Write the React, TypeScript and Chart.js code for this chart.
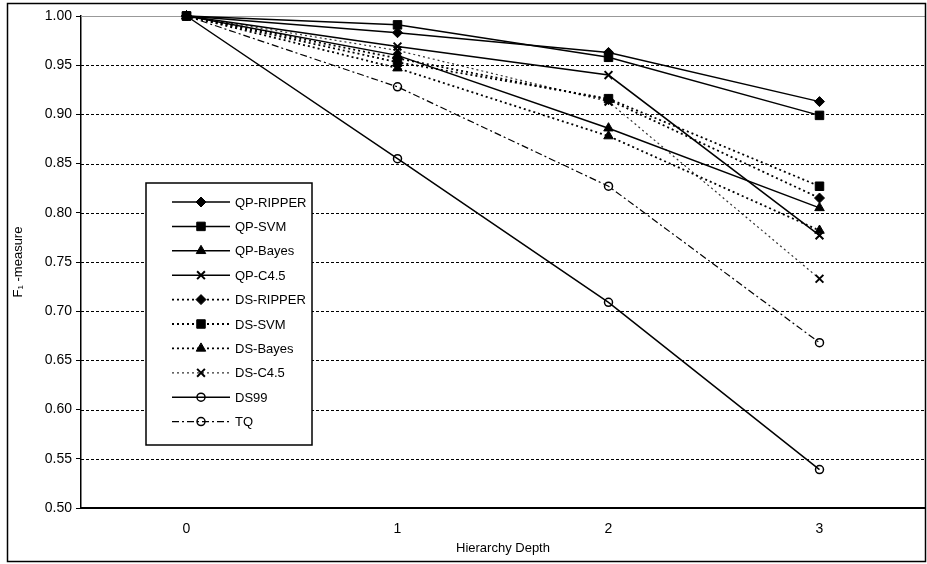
import React, { useEffect, useRef } from "react";
import { Chart, registerables } from "chart.js";
import { drawPoint } from "chart.js/helpers";

Chart.register(...registerables);

const depths = ["0", "1", "2", "3"];
const seriesNames = [
  "QP-RIPPER",
  "QP-SVM",
  "QP-Bayes",
  "QP-C4.5",
  "DS-RIPPER",
  "DS-SVM",
  "DS-Bayes",
  "DS-C4.5",
  "DS99",
  "TQ",
];
const qpRipper = [1.0, 0.983, 0.963, 0.913];
const qpSvm = [1.0, 0.991, 0.958, 0.899];
const qpBayes = [1.0, 0.96, 0.886, 0.805];
const qpC45 = [1.0, 0.969, 0.94, 0.777];
const dsRipper = [1.0, 0.957, 0.915, 0.815];
const dsSvm = [1.0, 0.953, 0.916, 0.827];
const dsBayes = [1.0, 0.947, 0.878, 0.782];
const dsC45 = [1.0, 0.965, 0.913, 0.733];
const ds99 = [1.0, 0.855, 0.709, 0.539];
const tq = [1.0, 0.928, 0.827, 0.668];
const yMin = 0.5;
const yMax = 1.0;
const yStep = 0.05;

const FONT = "'Liberation Sans', Arial, sans-serif";

type Style = {
  dash: number[];
  width: number;
  color: string;
  point: string;
  radius: number;
  fill: string;
  pw: number;
};

const styles: Style[] = [
  { dash: [], width: 1.5, color: "#000", point: "rectRot", radius: 5, fill: "#000", pw: 1 },
  { dash: [], width: 1.5, color: "#000", point: "rect", radius: 6, fill: "#000", pw: 1 },
  { dash: [], width: 1.5, color: "#000", point: "triangle", radius: 5.5, fill: "#000", pw: 1 },
  { dash: [], width: 1.5, color: "#000", point: "crossRot", radius: 5.5, fill: "#000", pw: 2 },
  { dash: [2, 3], width: 1.8, color: "#000", point: "rectRot", radius: 5, fill: "#000", pw: 1 },
  { dash: [2, 3], width: 1.8, color: "#000", point: "rect", radius: 6, fill: "#000", pw: 1 },
  { dash: [2, 3], width: 1.8, color: "#000", point: "triangle", radius: 5.5, fill: "#000", pw: 1 },
  { dash: [2, 3], width: 1.2, color: "#333", point: "crossRot", radius: 5.5, fill: "#000", pw: 2 },
  { dash: [], width: 1.5, color: "#000", point: "circle", radius: 4, fill: "rgba(0,0,0,0)", pw: 1.5 },
  { dash: [7, 3, 2, 3], width: 1.2, color: "#000", point: "circle", radius: 4, fill: "rgba(0,0,0,0)", pw: 1.5 },
];

const allSeries = [qpRipper, qpSvm, qpBayes, qpC45, dsRipper, dsSvm, dsBayes, dsC45, ds99, tq];

const gridPlugin = {
  id: "dashGrid",
  beforeDatasetsDraw(chart: any) {
    const { ctx, chartArea, scales } = chart;
    const y = scales.y;
    ctx.save();
    y.ticks.forEach((t: any) => {
      const py = Math.round(y.getPixelForValue(t.value)) + 0.5;
      if (Math.abs(t.value - yMin) < 1e-6) return;
      ctx.beginPath();
      if (Math.abs(t.value - yMax) < 1e-6) {
        ctx.setLineDash([]);
        ctx.strokeStyle = "#999";
      } else {
        ctx.setLineDash([3, 2]);
        ctx.strokeStyle = "#000";
      }
      ctx.lineWidth = 1;
      ctx.moveTo(chartArea.left, py);
      ctx.lineTo(chartArea.right, py);
      ctx.stroke();
    });
    ctx.restore();
  },
};

const legendPlugin = {
  id: "boxLegend",
  afterDraw(chart: any) {
    const ctx = chart.ctx;
    const bx = 146;
    const by = 183;
    const bw = 166;
    const bh = 262;
    ctx.save();
    ctx.fillStyle = "#fff";
    ctx.fillRect(bx, by, bw, bh);
    ctx.lineWidth = 1.5;
    ctx.strokeStyle = "#000";
    ctx.setLineDash([]);
    ctx.strokeRect(bx, by, bw, bh);
    chart.data.datasets.forEach((ds: any, i: number) => {
      const st = styles[i];
      const cy = by + 19 + i * 24.4;
      ctx.save();
      ctx.beginPath();
      ctx.setLineDash(st.dash);
      ctx.lineWidth = st.width;
      ctx.strokeStyle = st.color;
      ctx.moveTo(172, cy);
      ctx.lineTo(230, cy);
      ctx.stroke();
      ctx.restore();
      ctx.save();
      ctx.setLineDash([]);
      ctx.fillStyle = st.fill;
      ctx.strokeStyle = "#000";
      ctx.lineWidth = st.pw;
      drawPoint(ctx, { pointStyle: st.point, rotation: 0, radius: st.radius, borderWidth: st.pw } as any, 201, cy);
      ctx.restore();
      ctx.fillStyle = "#000";
      ctx.font = "13px " + FONT;
      ctx.textAlign = "left";
      ctx.textBaseline = "middle";
      ctx.fillText(ds.label, 235, cy + 1);
    });
    ctx.restore();
  },
};

const framePlugin = {
  id: "outerFrame",
  afterDraw(chart: any) {
    const ctx = chart.ctx;
    ctx.save();
    ctx.setLineDash([]);
    ctx.lineWidth = 1.5;
    ctx.strokeStyle = "#000";
    ctx.strokeRect(7.5, 3.5, 918, 558);
    ctx.restore();
  },
};

export default function App() {
  const ref = useRef<HTMLCanvasElement | null>(null);

  useEffect(() => {
    if (!ref.current) return;
    const chart = new Chart(ref.current, {
      type: "line",
      data: {
        labels: depths,
        datasets: allSeries.map((data, i) => {
          const st = styles[i];
          return {
            label: seriesNames[i],
            data,
            borderColor: st.color,
            borderWidth: st.width,
            borderDash: st.dash,
            pointStyle: st.point as any,
            pointRadius: st.radius,
            pointHoverRadius: st.radius,
            pointBackgroundColor: st.fill,
            pointBorderColor: "#000",
            pointBorderWidth: st.pw,
            fill: false,
            tension: 0,
            clip: false as any,
          };
        }),
      },
      options: {
        animation: false,
        responsive: false,
        devicePixelRatio: 1,
        layout: { autoPadding: false, padding: { left: 9, top: 16, right: 2, bottom: 0 } },
        plugins: {
          legend: { display: false },
          tooltip: { enabled: false },
        },
        scales: {
          x: {
            type: "category",
            offset: true,
            grid: { display: false, drawTicks: false },
            border: { display: true, color: "#000", width: 2 },
            ticks: { color: "#000", font: { family: FONT, size: 14 }, padding: 13 },
            title: {
              display: true,
              text: "Hierarchy Depth",
              color: "#000",
              font: { family: FONT, size: 13 },
              padding: { top: 0, bottom: 8 },
            },
            afterFit: (s: any) => {
              s.height = 56;
              s.paddingLeft = 0;
              s.paddingRight = 0;
            },
          },
          y: {
            min: yMin,
            max: yMax,
            grid: { drawOnChartArea: false, color: "#000", tickColor: "#000", tickLength: 5 },
            border: { display: true, color: "#000", width: 1.5 },
            ticks: {
              stepSize: yStep,
              color: "#000",
              font: { family: FONT, size: 14 },
              padding: 4,
              callback: (v: any) => Number(v).toFixed(2),
            },
            title: {
              display: true,
              text: "F\u2081 -measure",
              color: "#000",
              font: { family: FONT, size: 13 },
              padding: { top: 2, bottom: 0 },
            },
            afterFit: (s: any) => {
              s.width = 72;
            },
          },
        },
      },
      plugins: [gridPlugin, legendPlugin, framePlugin],
    });
    return () => chart.destroy();
  }, []);

  return (
    <div style={{ position: "absolute", left: 0, top: 0, width: 927, height: 564, background: "#fff" }}>
      <canvas ref={ref} width={927} height={564} style={{ display: "block" }} />
    </div>
  );
}
